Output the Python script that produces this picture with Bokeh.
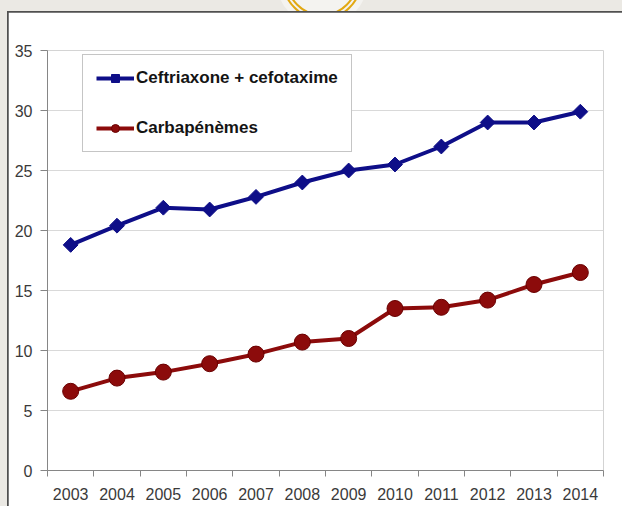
import numpy as np
from bokeh.plotting import figure
from bokeh.layouts import column
from bokeh.models import Range1d, FixedTicker, Legend, LegendItem, Div
from bokeh.embed import file_html
from bokeh.resources import INLINE

# Consumption series, 2003-2014
years = [2003, 2004, 2005, 2006, 2007, 2008, 2009, 2010, 2011, 2012, 2013, 2014]
ceftriaxone_cefotaxime = [18.8, 20.4, 21.9, 21.75, 22.8, 24.0, 25.0, 25.5, 27.0, 29.0, 29.0, 29.9]
carbapenemes = [6.6, 7.7, 8.2, 8.9, 9.7, 10.7, 11.0, 13.5, 13.6, 14.2, 15.5, 16.5]
series_names = ["Ceftriaxone + cefotaxime", "Carbapénèmes"]
y_ticks = [0, 5, 10, 15, 20, 25, 30, 35]

BLUE = "#0e0e88"
RED = "#8c0b0b"
AXIS = "#868686"
FONT = "Liberation Sans"
SLIDE_BG = "#ebe9e4"

p = figure(width=614, height=494, output_backend="svg", toolbar_location=None,
           x_range=Range1d(years[0] - 0.5, years[-1] + 0.5),
           y_range=Range1d(y_ticks[0], y_ticks[-1]),
           min_border_left=39, min_border_right=19,
           min_border_top=38, min_border_bottom=36,
           margin=(1, 0, 0, 1))
p.border_fill_color = "white"
p.background_fill_color = "white"
p.outline_line_color = None

p.xgrid.visible = False
p.ygrid.ticker = FixedTicker(ticks=y_ticks)
p.ygrid.grid_line_color = "#d9d9d9"
p.ygrid.grid_line_width = 1

# x axis: labels on the years, tick marks between them
p.xaxis.ticker = FixedTicker(ticks=years,
                             minor_ticks=[y - 0.5 for y in years] + [years[-1] + 0.5])
p.xaxis.major_tick_in = 0
p.xaxis.major_tick_out = 0
p.xaxis.minor_tick_in = 0
p.xaxis.minor_tick_out = 6
p.xaxis.minor_tick_line_color = AXIS
p.xaxis.major_label_standoff = 11

p.yaxis.ticker = FixedTicker(ticks=y_ticks)
p.yaxis.major_tick_in = 0
p.yaxis.major_tick_out = 7
p.yaxis.minor_tick_line_color = None
p.yaxis.major_label_standoff = 8

for ax in (p.xaxis, p.yaxis):
    ax.axis_line_color = AXIS
    ax.major_tick_line_color = AXIS
    ax.major_label_text_font = FONT
    ax.major_label_text_font_size = "16px"
    ax.major_label_text_color = "#3a3a3a"

l1 = p.line(years, ceftriaxone_cefotaxime, line_color=BLUE, line_width=4)
m1 = p.scatter(years, ceftriaxone_cefotaxime, marker="square", angle=np.pi / 4, size=10.5,
               fill_color=BLUE, line_color=BLUE, line_width=1)
l2 = p.line(years, carbapenemes, line_color=RED, line_width=4)
m2 = p.scatter(years, carbapenemes, marker="circle", size=16,
               fill_color=RED, line_color="#6a0000", line_width=1)

legend = Legend(items=[LegendItem(label=series_names[0], renderers=[l1, m1]),
                       LegendItem(label=series_names[1], renderers=[l2, m2])],
                location=(35, 318), orientation="vertical",
                padding=13, spacing=30, glyph_width=38, glyph_height=20,
                label_standoff=2, label_height=20,
                border_line_color="#8c8c8c", border_line_width=1,
                background_fill_color="white", background_fill_alpha=1,
                label_text_font=FONT, label_text_font_size="17px",
                label_text_font_style="bold", label_text_color="#141414")
p.add_layout(legend, "center")

# slide strip above the panel, with the gold double ring of the slide template
ring_svg = (
    '<svg width="622" height="11" xmlns="http://www.w3.org/2000/svg" style="display:block">'
    '<circle cx="322" cy="-20" r="46" fill="#f4f3f0"/>'
    '<circle cx="322" cy="-20" r="39" fill="none" stroke="#e2a811" stroke-width="2"/>'
    '<circle cx="322" cy="-20" r="35" fill="none" stroke="#e2a811" stroke-width="2"/>'
    '</svg>'
)
strip = Div(text=ring_svg, width=622, height=11, margin=0,
            styles={"overflow": "hidden", "line-height": "0"})

# dark 1px edge on the top and left of the white panel
panel = column(p, width=615, height=495, margin=(0, 0, 0, 7),
               styles={"background-color": "#505050"})

page = column(strip, panel, width=622, height=506, margin=0,
              styles={"background-color": SLIDE_BG})

open("out.html", "w").write(file_html(page, INLINE))
